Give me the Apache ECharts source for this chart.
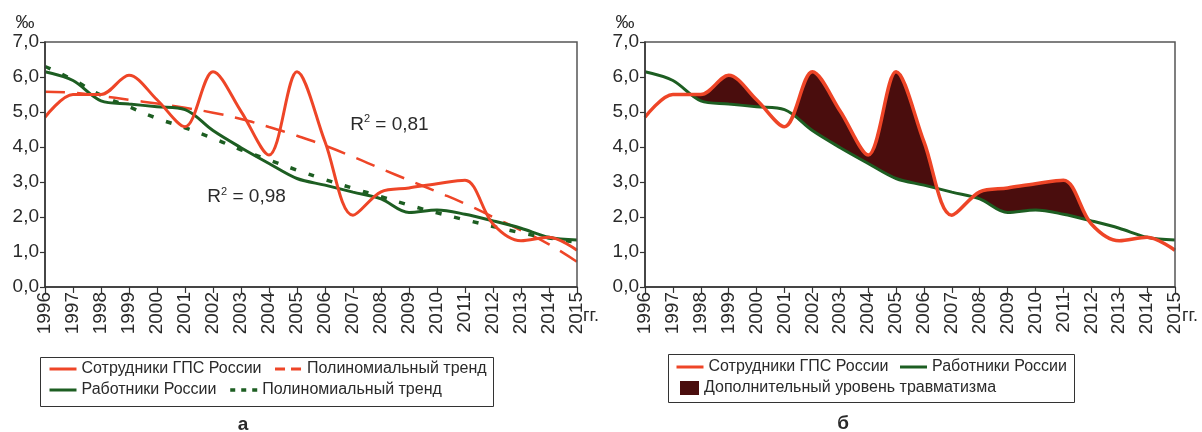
<!DOCTYPE html>
<html><head><meta charset="utf-8">
<script src="https://cdn.jsdelivr.net/npm/echarts@6/dist/echarts.min.js"></script>
<style>html,body{margin:0;padding:0;background:#fff}#c{width:1202px;height:432px}</style>
</head><body><div id="c"></div>
<script>
const years = [1996,1997,1998,1999,2000,2001,2002,2003,2004,2005,2006,2007,2008,2009,2010,2011,2012,2013,2014,2015];
const gpsRussia = [4.85,5.5,5.5,6.05,5.35,4.58,6.15,5.02,3.77,6.15,4.15,2.05,2.72,2.83,2.95,3.05,1.8,1.32,1.42,1.05];
const workersRussia = [6.15,5.9,5.32,5.23,5.15,5.07,4.47,3.98,3.53,3.1,2.91,2.71,2.52,2.13,2.2,2.08,1.89,1.68,1.42,1.34];
const gpsTrend = [5.58,5.55,5.46,5.35,5.24,5.12,4.98,4.8,4.57,4.32,4.04,3.72,3.38,3.05,2.72,2.38,2.0,1.62,1.22,0.72];
const workersTrend = [6.3,5.92,5.48,5.15,4.82,4.55,4.25,3.92,3.63,3.34,3.07,2.82,2.58,2.34,2.12,1.92,1.73,1.55,1.4,1.28];
const r2Labels = [{text:'0,98', x:2003.2, y:2.57}, {text:'0,81', x:2008.3, y:4.63}];

const RED = '#ee4527', GREEN = '#1d5e22', MAROON = '#4a0d0d', TXT = '#2a2a2a';
const FONT = 'Liberation Sans';
const SMOOTH = 0.33;
const pairs = arr => years.map((y, i) => [y, arr[i]]);

function xAxisFor(i) {
  return {
    type: 'value', gridIndex: i, min: 1996, max: 2015, interval: 1, z: 10,
    axisLine: {show: true, onZero: false, lineStyle: {color: '#333', width: 1.5}},
    axisTick: {show: true, length: 6, lineStyle: {color: '#333', width: 1.2}},
    splitLine: {show: false},
    axisLabel: {rotate: 90, margin: 5, fontSize: 19, color: TXT, fontFamily: FONT, formatter: v => String(v)}
  };
}
function yAxisFor(i) {
  return {
    type: 'value', gridIndex: i, min: 0, max: 7, interval: 1, z: 10,
    axisLine: {show: true, lineStyle: {color: '#333', width: 1.5}},
    axisTick: {show: true, length: 5, lineStyle: {color: '#333', width: 1.2}},
    splitLine: {show: false},
    axisLabel: {margin: 6, fontSize: 19, color: TXT, fontFamily: FONT, formatter: v => v.toFixed(1).replace('.', ',')}
  };
}
const lineBase = {type: 'line', symbol: 'none', showSymbol: false, smooth: SMOOTH, animation: false};
const legendText = {fontSize: 16, color: TXT, fontFamily: FONT};
const lineLegend = {padding: 0, itemWidth: 27, itemHeight: 14, selectedMode: false, itemStyle: {opacity: 0, borderWidth: 0}, lineStyle: {width: 3}, textStyle: legendText};
const solidIcon = {lineStyle: {width: 3, type: 'solid'}};
const redDashIcon = {lineStyle: {width: 3, type: [10, 6]}};
const greenDotIcon = {lineStyle: {width: 3.5, type: [5, 6]}};

const chart = echarts.init(document.getElementById('c'));
chart.setOption({
  animation: false,
  backgroundColor: '#fff',
  textStyle: {fontFamily: FONT},
  grid: [
    {left: 45, top: 42, width: 532, height: 245, show: true, borderColor: '#555', borderWidth: 1.5, z: 10},
    {left: 645, top: 42, width: 530, height: 245, show: true, borderColor: '#555', borderWidth: 1.5, z: 10}
  ],
  xAxis: [xAxisFor(0), xAxisFor(1)],
  yAxis: [yAxisFor(0), yAxisFor(1)],
  legend: [
    Object.assign({}, lineLegend, {data: [Object.assign({name: 'Сотрудники ГПС России'}, solidIcon), Object.assign({name: 'Полиномиальный тренд'}, redDashIcon)], left: 48, top: 361, itemGap: 12}),
    Object.assign({}, lineLegend, {data: [Object.assign({name: 'Работники России'}, solidIcon), Object.assign({name: 'Полиномиальный тренд '}, greenDotIcon)], left: 48, top: 382, itemGap: 12}),
    Object.assign({}, lineLegend, {data: [Object.assign({name: 'Сотрудники ГПС России'}, solidIcon), Object.assign({name: 'Работники России'}, solidIcon)], left: 675, top: 359, itemGap: 10}),
    {data: [{name: 'Дополнительный уровень травматизма', icon: 'rect', itemStyle: {color: MAROON}}], left: 680, top: 380, padding: 0, itemWidth: 19, itemHeight: 14, selectedMode: false, textStyle: legendText}
  ],
  series: [
    Object.assign({}, lineBase, {name: 'Полиномиальный тренд', xAxisIndex: 0, yAxisIndex: 0, data: pairs(gpsTrend), smooth: true, color: RED, lineStyle: {color: RED, width: 2.5, type: [20, 12]}}),
    Object.assign({}, lineBase, {name: 'Полиномиальный тренд ', xAxisIndex: 0, yAxisIndex: 0, data: pairs(workersTrend), smooth: true, color: GREEN, lineStyle: {color: GREEN, width: 3.5, type: [6, 13]},
      markPoint: {symbol: 'circle', symbolSize: 1, itemStyle: {color: 'rgba(0,0,0,0)'}, silent: true,
        label: {show: true, position: 'inside', formatter: p => '{r|R}{s|2}{r| = ' + p.name + '}',
          rich: {r: {fontSize: 19, color: TXT, fontFamily: FONT, lineHeight: 22}, s: {fontSize: 11, color: TXT, fontFamily: FONT, verticalAlign: 'top', lineHeight: 14}}},
        data: r2Labels.map(d => ({name: d.text, coord: [d.x, d.y]}))}}),
    Object.assign({}, lineBase, {name: 'Работники России', xAxisIndex: 0, yAxisIndex: 0, data: pairs(workersRussia), color: GREEN, lineStyle: {color: GREEN, width: 3}}),
    Object.assign({}, lineBase, {name: 'Сотрудники ГПС России', xAxisIndex: 0, yAxisIndex: 0, data: pairs(gpsRussia), color: RED, lineStyle: {color: RED, width: 3}}),

    Object.assign({}, lineBase, {name: 'Дополнительный уровень травматизма', xAxisIndex: 1, yAxisIndex: 1, data: pairs(gpsRussia), color: MAROON, lineStyle: {width: 0, opacity: 0}, areaStyle: {color: MAROON, opacity: 1}}),
    Object.assign({}, lineBase, {name: 'cover', xAxisIndex: 1, yAxisIndex: 1, data: pairs(workersRussia), color: '#fff', lineStyle: {width: 0, opacity: 0}, areaStyle: {color: '#fff', opacity: 1}}),
    Object.assign({}, lineBase, {name: 'Работники России', xAxisIndex: 1, yAxisIndex: 1, data: pairs(workersRussia), color: GREEN, lineStyle: {color: GREEN, width: 3}}),
    Object.assign({}, lineBase, {name: 'Сотрудники ГПС России', xAxisIndex: 1, yAxisIndex: 1, data: pairs(gpsRussia), color: RED, lineStyle: {color: RED, width: 3.5}})
  ],
  graphic: [
    {type: 'rect', shape: {x: 40.5, y: 357.5, width: 453, height: 49}, style: {fill: 'none', stroke: '#333', lineWidth: 1}},
    {type: 'rect', shape: {x: 668.5, y: 354.5, width: 406, height: 48}, style: {fill: 'none', stroke: '#333', lineWidth: 1}},
    {type: 'text', x: 25, y: 23, style: {text: '‰', fontSize: 19, fill: TXT, fontFamily: FONT, align: 'center', verticalAlign: 'middle'}},
    {type: 'text', x: 625, y: 23, style: {text: '‰', fontSize: 19, fill: TXT, fontFamily: FONT, align: 'center', verticalAlign: 'middle'}},
    {type: 'text', x: 583, y: 316, style: {text: 'гг.', fontSize: 18, fill: TXT, fontFamily: FONT, align: 'left', verticalAlign: 'middle'}},
    {type: 'text', x: 1182, y: 316, style: {text: 'гг.', fontSize: 18, fill: TXT, fontFamily: FONT, align: 'left', verticalAlign: 'middle'}},
    {type: 'text', x: 243, y: 425, style: {text: 'а', fontSize: 19, fontWeight: 'bold', fill: TXT, fontFamily: FONT, align: 'center', verticalAlign: 'middle'}},
    {type: 'text', x: 843, y: 424, style: {text: 'б', fontSize: 19, fontWeight: 'bold', fill: TXT, fontFamily: FONT, align: 'center', verticalAlign: 'middle'}}
  ]
});
</script></body></html>
